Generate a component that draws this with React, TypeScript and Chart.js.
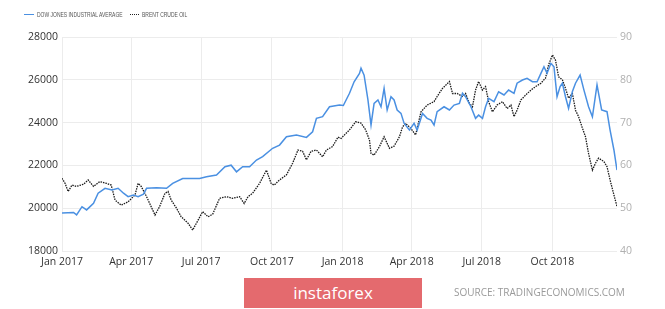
import React, { useEffect, useRef } from "react";
import { Chart, registerables } from "chart.js";

Chart.register(...registerables);

// x positions are days since 2017-01-01
const QUARTER_DAYS = [0, 90, 181, 273, 365, 455, 546, 638];
const QUARTER_LABELS = ["Jan 2017", "Apr 2017", "Jul 2017", "Oct 2017", "Jan 2018", "Apr 2018", "Jul 2018", "Oct 2018"];
const LAST_DAY = 722;

const DOW_DAY = [
  0, 15, 19, 26, 32, 41, 47, 56, 65, 73,
  80, 86, 93, 99, 106, 110, 123, 136, 144, 157,
  170, 179, 188, 201, 212, 220, 227, 235, 244, 253,
  261, 274, 283, 292, 305, 318, 326, 331, 339, 348,
  361, 366, 374, 380, 387, 389, 393, 398, 402, 406,
  411, 415, 419, 423, 428, 432, 436, 441, 445, 452,
  458, 462, 469, 475, 480, 484, 488, 497, 504, 510,
  517, 521, 525, 532, 538, 542, 547, 551, 555, 562,
  568, 575, 581, 588, 592, 599, 605, 612, 618, 623,
  627, 631, 636, 640, 644, 648, 651, 655, 659, 664,
  668, 674, 679, 685, 690, 696, 702, 709, 713, 718,
  722,
];
const DOW_VALUE = [
  19780, 19800, 19690, 20070, 19920, 20230, 20700, 20930, 20850, 20930,
  20700, 20540, 20620, 20540, 20660, 20930, 20960, 20930, 21160, 21390,
  21390, 21390, 21470, 21550, 21940, 22010, 21700, 21940, 21940, 22250,
  22410, 22800, 22950, 23340, 23420, 23310, 23570, 24200, 24280, 24740,
  24820, 24800, 25370, 25910, 26300, 26540, 26220, 25060, 23890, 24900,
  25060, 24740, 25600, 24590, 25210, 25060, 24590, 24430, 23970, 23650,
  23970, 23650, 24430, 24200, 24120, 23890, 24510, 24740, 24590, 24820,
  24900, 25370, 25210, 24740, 24200, 24350, 24200, 24740, 25130, 24980,
  25440, 25290, 25520, 25370, 25840, 25990, 26070, 25910, 25910, 26300,
  26610, 26300, 26770, 26610, 25210, 25680, 25840, 25210, 24670, 25450,
  25840, 26220, 25520, 24740, 24270, 25760, 24590, 24510, 23650, 22720,
  21780,
];

const BRENT_DAY = [
  0, 4, 8, 13, 19, 28, 34, 41, 49, 58,
  64, 69, 77, 86, 95, 99, 103, 110, 121, 127,
  134, 138, 142, 149, 155, 164, 170, 177, 183, 190,
  196, 205, 214, 222, 231, 237, 242, 248, 257, 266,
  272, 276, 283, 292, 300, 307, 313, 318, 324, 331,
  339, 344, 352, 359, 363, 374, 382, 389, 395, 400,
  402, 406, 413, 419, 426, 432, 439, 443, 447, 454,
  460, 467, 475, 484, 488, 495, 504, 508, 514, 521,
  525, 530, 534, 538, 542, 547, 551, 555, 560, 566,
  573, 579, 584, 588, 592, 597, 603, 610, 616, 623,
  629, 633, 638, 642, 646, 651, 655, 659, 664, 668,
  672, 677, 681, 685, 690, 694, 698, 705, 709, 713,
  718, 722,
];
const BRENT_VALUE = [
  57.0, 55.8, 53.9, 55.4, 55.1, 55.6, 56.6, 55.1, 56.2, 55.8,
  55.4, 51.9, 50.7, 51.5, 53.1, 55.8, 55.1, 52.7, 48.4, 50.4,
  53.5, 53.9, 51.9, 50.0, 48.0, 46.5, 44.9, 47.2, 49.2, 48.0,
  48.6, 52.3, 52.7, 52.3, 52.7, 51.1, 52.7, 53.5, 55.8, 58.9,
  55.8, 55.4, 56.6, 57.8, 60.5, 63.6, 63.3, 61.3, 63.3, 63.6,
  62.0, 63.6, 64.4, 66.6, 66.3, 68.3, 70.2, 69.9, 68.3, 65.9,
  62.8, 62.4, 64.4, 66.7, 64.0, 64.5, 66.7, 69.0, 69.8, 68.6,
  67.1, 72.5, 74.1, 74.9, 76.1, 78.0, 79.6, 76.8, 76.8, 76.1,
  76.8, 74.5, 73.7, 77.6, 79.6, 77.6, 78.4, 74.9, 72.5, 74.1,
  74.9, 73.3, 74.1, 71.4, 72.9, 75.3, 76.4, 77.6, 78.4, 79.2,
  80.4, 83.5, 85.8, 84.6, 80.7, 80.0, 78.0, 75.7, 76.8, 72.9,
  71.4, 68.7, 66.7, 62.8, 58.9, 60.5, 61.7, 60.9, 59.7, 56.6,
  53.1, 50.4,
];

const LEFT_TICKS = { min: 18000, max: 28000, step: 2000 };
const RIGHT_TICKS = { min: 40, max: 90, step: 10 };

const FONT = "'Open Sans', 'DejaVu Sans', sans-serif";

export default function App() {
  const canvasRef = useRef<HTMLCanvasElement | null>(null);

  useEffect(() => {
    const canvas = canvasRef.current;
    if (!canvas) return;
    const chart = new Chart(canvas, {
      type: "line",
      data: {
        datasets: [
          {
            label: "DOW JONES INDUSTRIAL AVERAGE",
            data: DOW_DAY.map((d, i) => ({ x: d, y: DOW_VALUE[i] })),
            yAxisID: "y",
            borderColor: "rgb(74,144,226)",
            borderWidth: 1.5,
            pointRadius: 0,
            tension: 0,
          },
          {
            label: "BRENT CRUDE OIL",
            data: BRENT_DAY.map((d, i) => ({ x: d, y: BRENT_VALUE[i] })),
            yAxisID: "y1",
            borderColor: "#1a1a1a",
            borderWidth: 1.3,
            borderDash: [1.5, 1],
            pointRadius: 0,
            tension: 0,
          },
        ],
      },
      options: {
        responsive: false,
        animation: false,
        layout: { padding: { top: 37, left: 0, right: 0, bottom: 0 } },
        plugins: { legend: { display: false }, tooltip: { enabled: false } },
        scales: {
          x: {
            type: "linear",
            min: 0,
            max: LAST_DAY,
            afterBuildTicks: (scale: any) => {
              scale.ticks = QUARTER_DAYS.map((v) => ({ value: v }));
            },
            afterFit: (scale: any) => {
              scale.height = 58;
            },
            grid: { color: "#ececec", drawTicks: false, lineWidth: 1 },
            border: { display: false },
            ticks: {
              autoSkip: false,
              maxRotation: 0,
              minRotation: 0,
              padding: 5,
              color: "#333",
              font: { family: FONT, size: 10.5 },
              callback: (v: any) => {
                const i = QUARTER_DAYS.indexOf(Number(v));
                return i >= 0 ? QUARTER_LABELS[i] : "";
              },
            },
          },
          y: {
            position: "left",
            min: LEFT_TICKS.min,
            max: LEFT_TICKS.max,
            afterFit: (scale: any) => {
              scale.width = 62;
            },
            grid: { color: "#ececec", drawTicks: false },
            border: { display: false },
            ticks: {
              stepSize: LEFT_TICKS.step,
              padding: 4,
              color: "#333",
              font: { family: FONT, size: 10.5 },
              callback: (v: any) => String(v),
            },
          },
          y1: {
            position: "right",
            min: RIGHT_TICKS.min,
            max: RIGHT_TICKS.max,
            afterFit: (scale: any) => {
              scale.width = 48;
            },
            grid: { display: false, drawTicks: false },
            border: { display: false },
            ticks: {
              stepSize: RIGHT_TICKS.step,
              padding: 3,
              color: "#b0b0b0",
              font: { family: FONT, size: 10.5 },
              callback: (v: any) => String(v),
            },
          },
        },
      },
    });
    return () => chart.destroy();
  }, []);

  const legendText: React.CSSProperties = {
    position: "absolute",
    top: 10,
    fontFamily: "'Liberation Sans', Arial, sans-serif",
    fontSize: 7,
    color: "#555",
    whiteSpace: "nowrap",
    transformOrigin: "left center",
    transform: "scaleX(0.71)",
    lineHeight: "9px",
  };

  return (
    <div style={{ position: "absolute", left: 0, top: 0, width: 665, height: 309, background: "#fff", overflow: "hidden" }}>
      <canvas ref={canvasRef} width={665} height={309} style={{ position: "absolute", left: 0, top: 0, width: 665, height: 309 }} />
      <div style={{ position: "absolute", left: 24, top: 14, width: 10, height: 0, borderTop: "1.5px solid rgb(74,144,226)" }} />
      <div style={{ ...legendText, left: 37 }}>DOW JONES INDUSTRIAL AVERAGE</div>
      <div style={{ position: "absolute", left: 130, top: 14, width: 9, height: 0, borderTop: "1.5px dotted #222" }} />
      <div style={{ ...legendText, left: 142 }}>BRENT CRUDE OIL</div>
      <div
        style={{
          position: "absolute",
          left: 244,
          top: 278,
          width: 178,
          height: 30,
          background: "rgb(228,106,110)",
          color: "#fff",
          fontFamily: FONT,
          fontSize: 17,
          lineHeight: "30px",
          textAlign: "center",
        }}
      >
        instaforex
      </div>
      <div
        style={{
          position: "absolute",
          left: 454,
          top: 285,
          fontFamily: FONT,
          fontSize: 10,
          lineHeight: "14px",
          color: "#9a9a9a",
          whiteSpace: "nowrap",
        }}
      >
        SOURCE: TRADINGECONOMICS.COM
      </div>
    </div>
  );
}
